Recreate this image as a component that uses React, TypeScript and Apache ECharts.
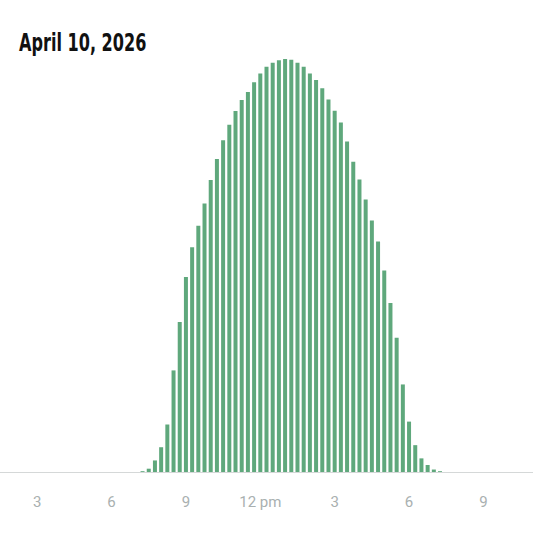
import * as echarts from 'echarts';
import { useEffect, useRef } from 'react';

// Date shown above the chart
const dateLabel = 'April 10, 2026';

// Bar times (hour of day, 15-minute steps) from 7:15 am to 7:15 pm
const barHours = [
  7.25, 7.5, 7.75, 8, 8.25, 8.5, 8.75, 9, 9.25, 9.5, 9.75, 10, 10.25, 10.5,
  10.75, 11, 11.25, 11.5, 11.75, 12, 12.25, 12.5, 12.75, 13, 13.25, 13.5,
  13.75, 14, 14.25, 14.5, 14.75, 15, 15.25, 15.5, 15.75, 16, 16.25, 16.5,
  16.75, 17, 17.25, 17.5, 17.75, 18, 18.25, 18.5, 18.75, 19, 19.25,
];

// Relative output per interval (% of the daily peak)
const barValues = [
  0.2, 0.8, 2.8, 6.0, 11.5, 24.6, 36.3, 47.2, 54.4, 59.6, 65.0, 70.7, 75.8,
  80.3, 84.1, 87.4, 90.1, 92.0, 94.4, 96.5, 98.1, 99.1, 99.7, 100, 99.8, 99.1,
  98.1, 96.5, 94.9, 92.9, 90.2, 87.5, 84.6, 80.0, 75.1, 70.8, 66.0, 60.9, 55.8,
  48.8, 40.9, 32.5, 21.2, 12.2, 6.5, 3.3, 1.7, 0.6, 0.2,
];

// Hours that get an axis label
const tickHours = [3, 6, 9, 12, 15, 18, 21];

const formatHour = (v: number) => {
  const h = v % 12 === 0 ? 12 : v % 12;
  return v === 12 ? '12 pm' : String(h);
};

export default function App() {
  const chartRef = useRef<HTMLDivElement>(null);

  useEffect(() => {
    if (!chartRef.current) return;
    const chart = echarts.init(chartRef.current, undefined, { renderer: 'svg' });

    chart.setOption({
      animation: false,
      backgroundColor: '#ffffff',
      // condensed bold date, squeezed horizontally to match the narrow face
      graphic: [
        {
          type: 'text',
          x: 19,
          y: 30,
          scaleX: 0.745,
          style: {
            text: dateLabel,
            fontFamily: "'DejaVu Sans Condensed', 'DejaVu Sans', sans-serif",
            fontWeight: 'bold',
            fontSize: 24,
            fill: '#111111',
            verticalAlign: 'top',
          },
        },
      ],
      grid: {
        left: 0,
        right: 0,
        top: 59,
        bottom: 61,
      },
      xAxis: {
        type: 'value',
        min: 1.5,
        max: 23,
        axisLine: { show: true, lineStyle: { color: '#d5d8d8', width: 1 } },
        axisTick: { show: false },
        splitLine: { show: false },
        axisLabel: {
          customValues: tickHours,
          formatter: (v: number) => formatHour(v),
          color: '#a9b0b0',
          fontFamily: 'Roboto, sans-serif',
          fontSize: 15,
          margin: 22,
        },
      },
      yAxis: {
        type: 'value',
        min: 0,
        max: 100,
        show: false,
      },
      series: [
        {
          type: 'bar',
          barWidth: 4,
          data: barHours.map((h, i) => [h, barValues[i]]),
          itemStyle: { color: '#5fa87c' },
        },
      ],
    });

    return () => {
      chart.dispose();
    };
  }, []);

  return (
    <div
      ref={chartRef}
      style={{ position: 'fixed', left: 0, top: 0, width: 533, height: 533 }}
    />
  );
}
